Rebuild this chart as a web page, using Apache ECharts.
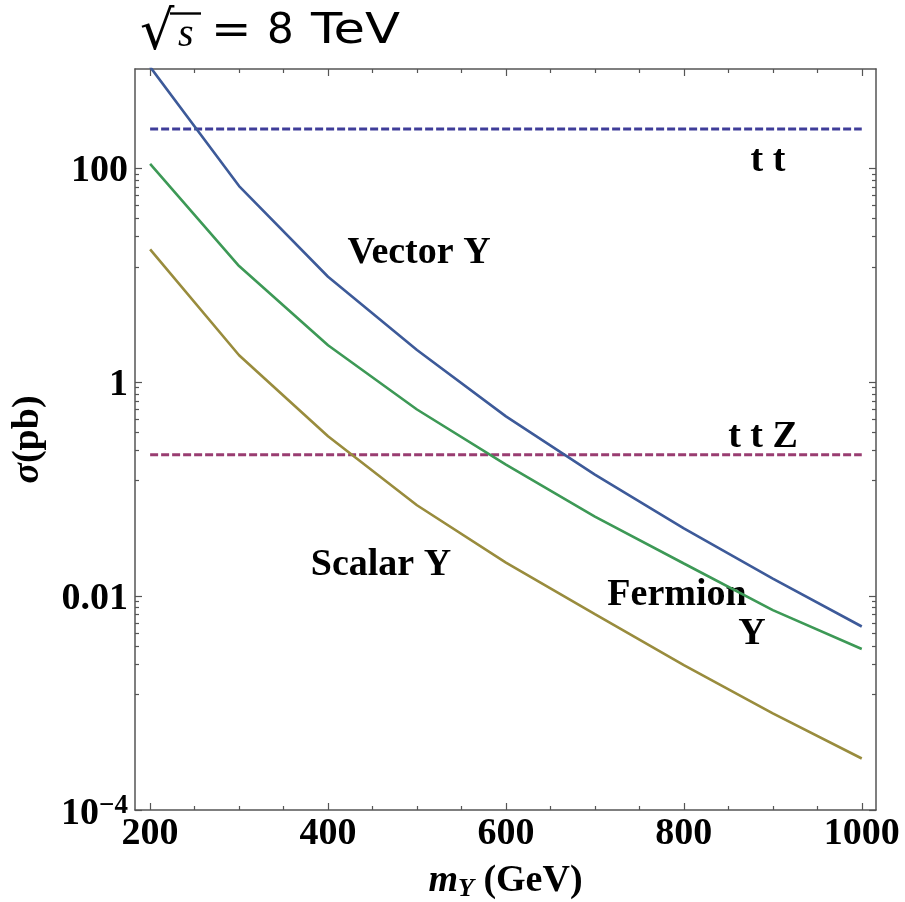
<!DOCTYPE html>
<html><head><meta charset="utf-8">
<script src="https://cdn.jsdelivr.net/npm/echarts@6/dist/echarts.min.js"></script>
<style>html,body{margin:0;padding:0;background:#fff}#c{width:905px;height:902px}</style>
</head><body><div id="c"></div>
<script>
// ---- data ----
const masses = [200, 300, 400, 500, 600, 700, 800, 900, 1000];
const vectorY = [890, 68.3, 9.7, 2.0, 0.48, 0.137, 0.043, 0.0146, 0.0052];
const fermionY = [110, 12.2, 2.22, 0.556, 0.17, 0.0555, 0.0202, 0.0074, 0.0032];
const scalarY = [17.5, 1.79, 0.313, 0.0708, 0.0206, 0.0068, 0.00226, 0.0008, 0.000303];
const ttbarXsec = 234;
const ttZXsec = 0.21;
const lineSpan = [200, 1000];
const xMajorTicks = [200, 400, 600, 800, 1000];
const xMinorTicks = [250, 300, 350, 450, 500, 550, 650, 700, 750, 850, 900, 950];
const yMajorTicks = [0.0001, 0.01, 1, 100];
const yMinorTicks = [0.0012, 0.0023, 0.0034, 0.0045, 0.0056, 0.0067, 0.0078, 0.0089,
                     0.12, 0.23, 0.34, 0.45, 0.56, 0.67, 0.78, 0.89,
                     12, 23, 34, 45, 56, 67, 78, 89];
const yTickLabels = {'0.0001': '{a|10}{b|\u22124}', '0.01': '0.01', '1': '1', '100': '100'};

// ---- styles ----
const SERIF = '"Liberation Serif","Times New Roman",serif';
const FRAME = '#555555';
const X_MIN = 183, X_MAX = 1016, Y_MIN = 0.0001, Y_MAX = 850;

function xAx(pos, ticks, len, labels, line) {
  return {
    type: 'value', position: pos, min: X_MIN, max: X_MAX,
    axisLine: {show: line, lineStyle: {color: FRAME, width: 1.5}},
    axisTick: {show: true, inside: true, length: len, customValues: ticks, lineStyle: {color: FRAME, width: 1.2}},
    axisLabel: labels ? {show: true, customValues: ticks, margin: 5, color: '#000',
      fontFamily: SERIF, fontWeight: 'bold', fontSize: 38, formatter: v => String(v)} : {show: false},
    splitLine: {show: false}
  };
}
function yAx(pos, ticks, len, labels, line) {
  return {
    type: 'log', logBase: 10, position: pos, min: Y_MIN, max: Y_MAX,
    axisLine: {show: line, lineStyle: {color: FRAME, width: 1.5}},
    axisTick: {show: true, inside: true, length: len, customValues: ticks, lineStyle: {color: FRAME, width: 1.2}},
    axisLabel: labels ? {show: true, customValues: ticks, margin: 7, color: '#000', padding: [6, 0, 0, 0],
      fontFamily: SERIF, fontWeight: 'bold', fontSize: 38,
      formatter: v => { for (const k in yTickLabels) { if (Math.abs(Math.log10(v) - Math.log10(+k)) < 1e-6) return yTickLabels[k]; } return ''; },
      rich: {a: {fontFamily: SERIF, fontWeight: 'bold', fontSize: 38, lineHeight: 40, verticalAlign: 'bottom', color: '#000'},
             b: {fontFamily: SERIF, fontWeight: 'bold', fontSize: 27, lineHeight: 26, verticalAlign: 'top', color: '#000'}}
    } : {show: false},
    splitLine: {show: false}, minorTick: {show: false}
  };
}

const chart = echarts.init(document.getElementById('c'), null, {renderer: 'canvas'});
const xAxes = [xAx('bottom', xMajorTicks, 7, true, true), xAx('bottom', xMinorTicks, 4, false, false),
               xAx('top', xMajorTicks, 7, false, true), xAx('top', xMinorTicks, 4, false, false)];
xAxes[0].name = '{m|m}{s|Y}{n| (GeV)}';
xAxes[0].nameLocation = 'middle';
xAxes[0].nameGap = 52;
xAxes[0].nameTextStyle = {color: '#000', rich: {
  m: {color: '#000', fontFamily: SERIF, fontWeight: 'bold', fontStyle: 'italic', fontSize: 38, lineHeight: 40, verticalAlign: 'top'},
  s: {color: '#000', fontFamily: SERIF, fontWeight: 'bold', fontStyle: 'italic', fontSize: 26, lineHeight: 26, padding: [16, 0, 0, 0], verticalAlign: 'bottom'},
  n: {color: '#000', fontFamily: SERIF, fontWeight: 'bold', fontSize: 38, lineHeight: 40, verticalAlign: 'top'}}};
const yAxes = [yAx('left', yMajorTicks, 7, true, true), yAx('left', yMinorTicks, 4, false, false),
               yAx('right', yMajorTicks, 7, false, true), yAx('right', yMinorTicks, 4, false, false)];
yAxes[0].name = '{i|\u03c3}{n|(pb)}';
yAxes[0].nameLocation = 'middle';
yAxes[0].nameRotate = 90;
yAxes[0].nameGap = 88;
yAxes[0].nameTextStyle = {color: '#000', rich: {
  i: {color: '#000', fontFamily: SERIF, fontWeight: 'bold', fontStyle: 'italic', fontSize: 38},
  n: {color: '#000', fontFamily: SERIF, fontWeight: 'bold', fontSize: 38}}};

function curve(name, vals, color) {
  return {name, type: 'line', data: masses.map((m, i) => [m, vals[i]]), symbol: 'none',
    lineStyle: {color, width: 2.6}, clip: true, z: 3};
}
function hline(name, val, color) {
  return {name, type: 'line', data: lineSpan.map(m => [m, val]), symbol: 'none',
    lineStyle: {color, width: 3, type: [8, 3]}, clip: true, z: 2};
}
const label = (text, x, y) => ({type: 'text', x, y, style: {text, x: 0, y: 0, fill: '#000',
  font: 'bold 38px ' + SERIF, textAlign: 'center', textVerticalAlign: 'middle'}});
const titleFont = '42px "DejaVu Sans"';

chart.setOption({
  animation: false,
  backgroundColor: '#ffffff',
  grid: {left: 135, right: 29, top: 69, bottom: 92, containLabel: false, outerBoundsMode: 'none'},
  xAxis: xAxes,
  yAxis: yAxes,
  series: [
    hline('t t', ttbarXsec, '#3f3d99'),
    hline('t t Z', ttZXsec, '#993d71'),
    curve('Vector Y', vectorY, '#3d5a99'),
    curve('Fermion Y', fermionY, '#3d9956'),
    curve('Scalar Y', scalarY, '#998c3d')
  ],
  graphic: [
    label('t t', 768, 161),
    label('t t Z', 763, 437),
    label('Vector Y', 419, 253),
    label('Scalar Y', 381, 565),
    label('Fermion', 677, 595),
    label('Y', 752, 634),
    {type: 'text', x: 140, y: 62, style: {text: '\u221a', fill: '#000', font: '54px "DejaVu Sans"', textVerticalAlign: 'bottom'}},
    {type: 'line', shape: {x1: 170, y1: 13.5, x2: 201, y2: 13.5}, style: {stroke: '#000', lineWidth: 2.4}},
    {type: 'text', x: 178, y: 55, style: {text: 's', fill: '#000', font: 'italic 40px ' + SERIF, textVerticalAlign: 'bottom'}},
    {type: 'text', x: 211, y: 32, scaleX: 1.15, style: {text: '=', fill: '#000', font: titleFont, textVerticalAlign: 'middle'}},
    {type: 'text', x: 267, y: 32, style: {text: '8', fill: '#000', font: titleFont, textVerticalAlign: 'middle'}},
    {type: 'text', x: 311, y: 32, scaleX: 1.22, style: {text: 'TeV', fill: '#000', font: titleFont, textVerticalAlign: 'middle'}}
  ]
});
</script></body></html>
